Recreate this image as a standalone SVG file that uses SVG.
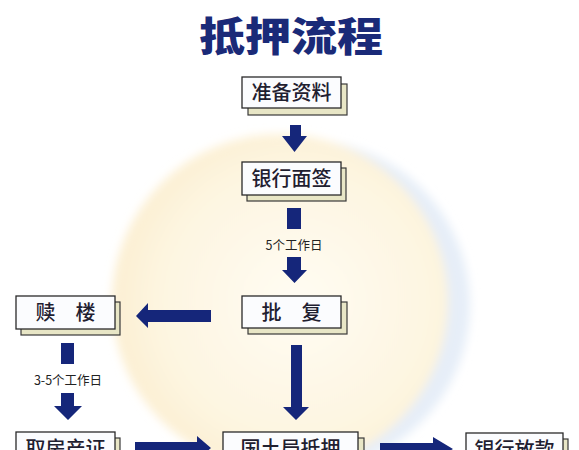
<svg xmlns="http://www.w3.org/2000/svg" width="579" height="450" viewBox="0 0 579 450">
<defs>
<style>
.title{font-family:"Noto Sans CJK SC","Noto Sans",sans-serif;font-weight:900;font-size:46px;fill:#1a2a78;text-anchor:middle}
.box{fill:#fbfcfe;stroke:#2a2a2a;stroke-width:1.3}
.shadow{fill:#e8e6c6;stroke:#3a3a3a;stroke-width:1.2}
.lbl{font-family:"Noto Sans CJK SC","Noto Sans",sans-serif;font-size:20px;font-weight:500;fill:#1f2030;text-anchor:middle}
.note{font-family:"Noto Sans CJK SC","Noto Sans",sans-serif;font-size:12.5px;fill:#222;text-anchor:middle}
.arr{fill:#15267a}
</style>
<radialGradient id="cream" cx="0.55" cy="0.5" r="0.55">
<stop offset="0" stop-color="#fffcf3"/>
<stop offset="0.75" stop-color="#fdf5e0"/>
<stop offset="1" stop-color="#fcefd2"/>
</radialGradient>
<filter id="blur" x="-20%" y="-20%" width="140%" height="140%"><feGaussianBlur stdDeviation="5"/></filter>
</defs>
<rect width="579" height="450" fill="#ffffff"/>
<g id="bg" filter="url(#blur)">
<circle cx="305" cy="305" r="165" fill="#e6eef8"/>
<circle cx="280" cy="302" r="168" fill="url(#cream)"/>
</g>
<text class="title" x="291" y="0" transform="translate(0,51) scale(1,0.86)">抵押流程</text>
<g id="connectors">
<path class="arr" d="M290,125 H301 V136 H307 L294.5,152 L282,136 H290 Z"/>
<rect class="arr" x="287" y="208" width="14" height="21"/>
<text class="note" x="294" y="249.5">5个工作日</text>
<path class="arr" d="M287,257 H301 V270 H307 L294.5,283 L282,270 H287 Z"/>
<path class="arr" d="M291,345 H302 V407 H309 L296,420 L283,407 H291 Z"/>
<path class="arr" d="M211,310 V322 H148 V328 L136,316 L148,303 V310 Z"/>
<rect class="arr" x="61" y="343" width="13" height="21"/>
<text class="note" x="68" y="384.5">3-5个工作日</text>
<path class="arr" d="M61,393 H74 V406 H82 L68,420 L54,406 H61 Z"/>
<path class="arr" d="M135,442 H197 V436 L211,448 L197,460 V454 H135 Z"/>
<path class="arr" d="M380,443 H433 V437 L453,449 L433,461 V455 H380 Z"/>
</g>
<g id="n1">
<rect class="shadow" x="248" y="84" width="99" height="31"/>
<rect class="box" x="242" y="77" width="99" height="31"/>
<text class="lbl" x="291.5" y="100">准备资料</text>
</g>
<g id="n2">
<rect class="shadow" x="247" y="168" width="99" height="33"/>
<rect class="box" x="242" y="162" width="99" height="33"/>
<text class="lbl" x="291.5" y="186">银行面签</text>
</g>
<g id="n3">
<rect class="shadow" x="248" y="302" width="99" height="32"/>
<rect class="box" x="242" y="296" width="99" height="32"/>
<text class="lbl" x="291.5" y="319.5">批　复</text>
</g>
<g id="n4">
<rect class="shadow" x="21" y="302" width="99" height="33"/>
<rect class="box" x="16" y="296" width="99" height="33"/>
<text class="lbl" x="65.5" y="320">赎　楼</text>
</g>
<g id="n5">
<rect class="shadow" x="21" y="438" width="99" height="33"/>
<rect class="box" x="16" y="432" width="99" height="33"/>
<text class="lbl" x="65.5" y="456">取房产证</text>
</g>
<g id="n6">
<rect class="shadow" x="229" y="438" width="135" height="33"/>
<rect class="box" x="223" y="432" width="135" height="33"/>
<text class="lbl" x="290.5" y="456">国土局抵押</text>
</g>
<g id="n7">
<rect class="shadow" x="471" y="439" width="97" height="33"/>
<rect class="box" x="466" y="433" width="97" height="33"/>
<text class="lbl" x="514.5" y="457">银行放款</text>
</g>
</svg>
